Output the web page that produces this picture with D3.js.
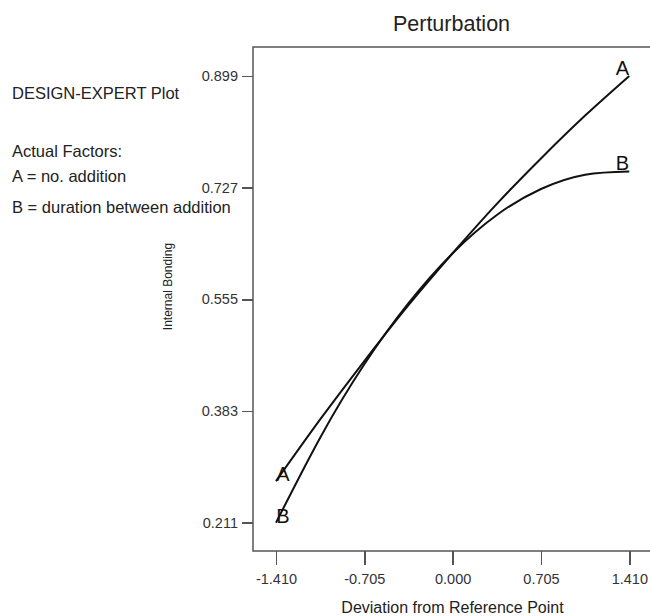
<!DOCTYPE html>
<html>
<meta charset="utf-8">
<style>
body { margin: 0; background: #fff; }
svg { font-family: "Liberation Sans", Arial, sans-serif; }
.axis path { display: none; }
.axis line { stroke: #555; stroke-width: 1.5; shape-rendering: crispEdges; }
.axis text { fill: #333; font-size: 14.5px; }
.frame { fill: none; stroke: #555; stroke-width: 1.5; }
.curve { fill: none; stroke: #111; stroke-width: 2; stroke-linejoin: round; }
.note { fill: #222; font-size: 16.5px; }
</style>
<body>
<script src="https://d3js.org/d3.v7.min.js"></script>
<script>
// deviation from reference point (coded units)
var deviation = [-1.41, -1.0575, -0.705, -0.3525, 0, 0.3525, 0.705, 1.0575, 1.41];
// internal bonding
var factorA = [0.275, 0.370, 0.460, 0.546, 0.626, 0.702, 0.772, 0.838, 0.899];
var factorB = [0.211, 0.342, 0.455, 0.549, 0.626, 0.685, 0.725, 0.747, 0.752];
var seriesNames = ["A", "B"];
var xTicks = [-1.41, -0.705, 0, 0.705, 1.41];
var yTicks = [0.211, 0.383, 0.555, 0.727, 0.899];
var notes = ["DESIGN-EXPERT Plot", "Actual Factors:", "A = no. addition", "B = duration between addition"];

var width = 650, height = 616;
var frame = {left: 253, top: 47, bottom: 551, right: 662};

var svg = d3.select("body").append("svg")
	.attr("width", width)
	.attr("height", height);

var x = d3.scaleLinear().domain([-1.41, 1.41]).range([276, 629.3]);
var y = d3.scaleLinear().domain([0.211, 0.899]).range([522.7, 76]);

// plain hyphen for negatives, like the original
var fmt = function(d) { return d3.format(".3f")(d).replace("\u2212", "-"); };

// plot box (right edge falls outside the picture)
svg.append("path")
	.attr("class", "frame")
	.attr("d", "M" + frame.right + "," + frame.top + "H" + frame.left + "V" + frame.bottom + "H" + frame.right);

svg.append("g")
	.attr("class", "axis")
	.attr("transform", "translate(" + frame.left + ",0)")
	.call(d3.axisLeft(y).tickValues(yTicks).tickFormat(fmt).tickSize(11).tickPadding(4));

svg.append("g")
	.attr("class", "axis")
	.attr("transform", "translate(0," + frame.bottom + ")")
	.call(d3.axisBottom(x).tickValues(xTicks).tickFormat(fmt).tickSize(14).tickPadding(9));

var line = d3.line()
	.x(function(d) { return x(d[0]); })
	.y(function(d) { return y(d[1]); })
	.curve(d3.curveNatural);

var series = [
	{name: seriesNames[0], values: d3.zip(deviation, factorA)},
	{name: seriesNames[1], values: d3.zip(deviation, factorB)}
];

series.forEach(function(s) {
	svg.append("path")
		.attr("class", "curve")
		.attr("d", line(s.values));

	var first = s.values[0], last = s.values[s.values.length - 1];
	svg.append("text")
		.attr("x", x(first[0]) + 7)
		.attr("y", y(first[1]) - 7)
		.attr("text-anchor", "middle")
		.attr("dominant-baseline", "central")
		.attr("font-size", "20px")
		.attr("fill", "#111")
		.text(s.name);
	svg.append("text")
		.attr("x", x(last[0]) - 7)
		.attr("y", y(last[1]) - 8.5)
		.attr("text-anchor", "middle")
		.attr("dominant-baseline", "central")
		.attr("font-size", "20px")
		.attr("fill", "#111")
		.text(s.name);
});

// title and axis titles
svg.append("text")
	.attr("x", 451.5)
	.attr("y", 31)
	.attr("text-anchor", "middle")
	.attr("font-size", "21.5px")
	.attr("fill", "#222")
	.text("Perturbation");

svg.append("text")
	.attr("x", 452.5)
	.attr("y", 613)
	.attr("text-anchor", "middle")
	.attr("font-size", "16px")
	.attr("fill", "#222")
	.text("Deviation from Reference Point");

svg.append("text")
	.attr("transform", "translate(172,286.5) rotate(-90)")
	.attr("text-anchor", "middle")
	.attr("font-size", "12px")
	.attr("fill", "#222")
	.text("Internal Bonding");

// Design-Expert notes on the left
var noteY = [98.5, 156.5, 181.5, 213];
notes.forEach(function(t, i) {
	svg.append("text")
		.attr("class", "note")
		.attr("x", 12)
		.attr("y", noteY[i])
		.text(t);
});
</script>
</body>
</html>
